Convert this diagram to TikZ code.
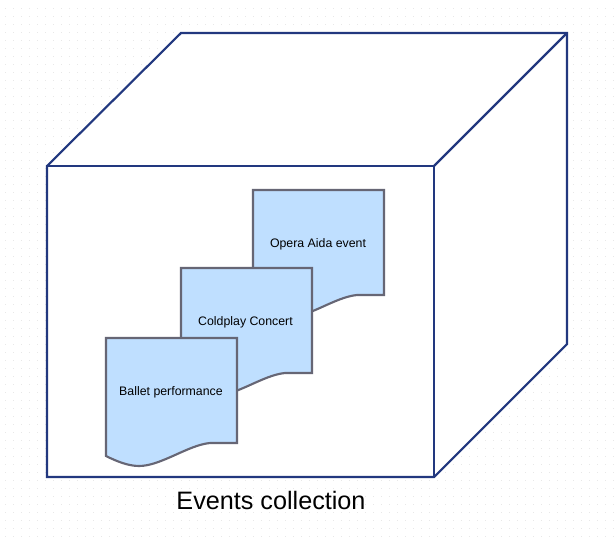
\documentclass[tikz,border=0pt]{standalone}
\usepackage{fontspec}
\setmainfont{Liberation Sans}
\definecolor{cubeblue}{HTML}{22387F}
\definecolor{docfill}{HTML}{BFDFFF}
\definecolor{docline}{HTML}{666675}
\definecolor{griddot}{HTML}{E8E8E8}
\tikzset{
  cubeline/.style={draw=cubeblue,line width=1.6bp,line join=miter,fill=white},
  docshape/.style={draw=docline,line width=1.6bp,fill=docfill,line join=miter},
  doclabel/.style={font=\fontsize{9.25bp}{11bp}\selectfont,text=black,inner sep=0pt},
  caption/.style={font=\fontsize{18.9bp}{22bp}\selectfont,text=black,inner sep=0pt}
}
\newcommand{\docpath}[2]{%
  \path[docshape,shift={(#1,#2)}] (0,0) -- (131,0) -- (131,105) -- (104,105)
    .. controls (82,107) and (55,128) .. (33,128)
    .. controls (22,128) and (10,123) .. (0,118) -- cycle;}
\begin{document}
\begin{tikzpicture}[x=0.75bp,y=-0.75bp]
\useasboundingbox (0,0) rectangle (614,541);
\fill[white] (0,0) rectangle (614,541);
\foreach \i in {0,...,76}{\foreach \j in {1,...,67}{
  \fill[griddot] (5+8*\i,8*\j) rectangle ++(1,1);}}
% cube
\path[cubeline] (47,166) -- (181,33) -- (567,33) -- (567,344) -- (434,477) -- (47,477) -- cycle;
\path[cubeline,fill=none] (47,166) -- (434,166) -- (434,477);
\path[cubeline,fill=none] (434,166) -- (567,33);
% documents
\docpath{253}{190}
\node[doclabel] (opera) at (318,244) {Opera Aida event};
\docpath{181}{268}
\node[doclabel] (coldplay) at (245.5,322) {Coldplay Concert};
\docpath{106}{338}
\node[doclabel] (ballet) at (171,392) {Ballet performance};
\node[caption] (title) at (271,500) {Events collection};
\end{tikzpicture}
\end{document}
